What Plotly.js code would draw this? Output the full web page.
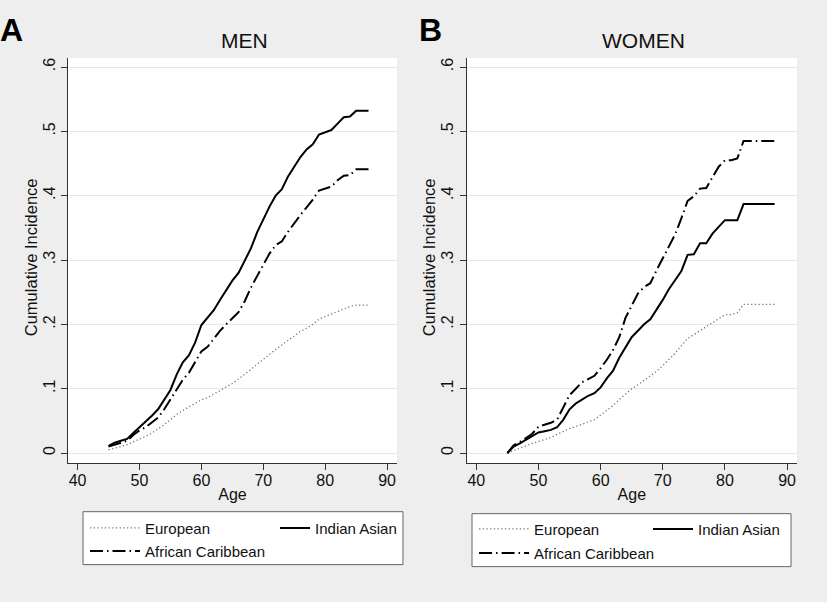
<!DOCTYPE html>
<html>
<head>
<meta charset="utf-8">
<script src="https://cdn.plot.ly/plotly-3.0.1.min.js"></script>
<style>
  html, body { margin: 0; padding: 0; background: #eeeeee; }
  #plot { width: 827px; height: 602px; }
</style>
</head>
<body>
<div id="plot"></div>
<script>
// Ages (years)
let agesMen = [45,46,47,48,49,50,51,52,53,54,55,56,57,58,59,60,61,62,63,64,65,66,
  67,68,69,70,71,72,73,74,75,76,77,78,79,80,81,82,83,84,85,86,87];
let agesWomen = [45,46,47,48,49,50,51,52,53,54,55,56,57,58,59,60,61,62,63,64,65,66,
  67,68,69,70,71,72,73,74,75,76,77,78,79,80,81,82,83,84,85,86,87,88];

// Men - cumulative incidence
let menEuropean = [0.005,0.007,0.010,0.013,0.017,0.021,0.026,0.031,0.037,0.044,0.052,0.060,
  0.066,0.072,0.078,0.083,0.086,0.091,0.097,0.103,0.108,0.115,0.122,0.130,0.138,0.146,
  0.154,0.161,0.168,0.175,0.183,0.189,0.194,0.200,0.208,0.212,0.215,0.220,0.224,0.228,
  0.230,0.230,0.230];
let menIndianAsian = [0.011,0.016,0.019,0.022,0.031,0.040,0.048,0.058,0.068,0.083,0.098,
  0.122,0.141,0.152,0.172,0.199,0.210,0.222,0.238,0.254,0.268,0.280,0.300,0.318,0.343,
  0.364,0.383,0.400,0.410,0.430,0.446,0.460,0.472,0.480,0.495,0.498,0.502,0.512,0.522,
  0.523,0.532,0.532,0.532];
let menAfricanCaribbean = [0.010,0.013,0.016,0.019,0.028,0.035,0.040,0.048,0.055,0.068,
  0.083,0.098,0.114,0.125,0.142,0.158,0.165,0.177,0.190,0.200,0.209,0.219,0.236,0.257,
  0.275,0.293,0.310,0.323,0.329,0.344,0.358,0.370,0.382,0.394,0.408,0.411,0.414,0.424,
  0.431,0.432,0.441,0.441,0.441];

// Women - cumulative incidence
let womenEuropean = [0.000,0.004,0.008,0.012,0.015,0.018,0.021,0.024,0.029,0.034,0.038,
  0.041,0.045,0.049,0.052,0.059,0.066,0.074,0.083,0.092,0.100,0.106,0.113,0.120,0.127,
  0.136,0.145,0.155,0.167,0.178,0.184,0.190,0.197,0.203,0.209,0.215,0.215,0.218,0.231,
  0.231,0.231,0.231,0.231,0.231];
let womenIndianAsian = [0.000,0.010,0.015,0.021,0.026,0.032,0.034,0.036,0.040,0.052,0.068,
  0.077,0.083,0.089,0.093,0.102,0.116,0.128,0.148,0.165,0.180,0.190,0.200,0.208,0.222,
  0.238,0.255,0.269,0.283,0.308,0.309,0.326,0.326,0.341,0.352,0.362,0.362,0.362,0.387,
  0.387,0.387,0.387,0.387,0.387];
let womenAfricanCaribbean = [0.000,0.012,0.017,0.023,0.030,0.041,0.044,0.047,0.052,0.070,
  0.090,0.100,0.110,0.115,0.120,0.132,0.145,0.160,0.180,0.210,0.230,0.248,0.258,0.264,
  0.284,0.302,0.320,0.340,0.365,0.392,0.399,0.411,0.412,0.428,0.445,0.455,0.455,0.458,
  0.485,0.485,0.485,0.485,0.485,0.485];

// Axis ticks
let xTicks = [40, 50, 60, 70, 80, 90];
let yTicks = [0, 0.1, 0.2, 0.3, 0.4, 0.5, 0.6];
let yTickLabels = ["0", ".1", ".2", ".3", ".4", ".5", ".6"];

let groupNames = ["European", "Indian Asian", "African Caribbean"];

let font = "Liberation Sans, Arial, Helvetica, sans-serif";

// line styles for each group
let styles = [
  {color: "#7a7a7a", width: 1.3, dash: "1.3px,2.4px"},
  {color: "#000000", width: 2, dash: "solid"},
  {color: "#000000", width: 2, dash: "13px,4px,1.5px,4px"}
];

function makeTrace(x, y, i, xa, ya, legendId) {
  return {
    x: x,
    y: y,
    type: "scatter",
    mode: "lines",
    name: groupNames[i],
    line: styles[i],
    xaxis: xa,
    yaxis: ya,
    legend: legendId,
    showlegend: true,
    hoverinfo: "x+y+name"
  };
}

let traceData = [
  makeTrace(agesMen, menEuropean, 0, "x", "y", "legend"),
  makeTrace(agesMen, menIndianAsian, 1, "x", "y", "legend2"),
  makeTrace(agesMen, menAfricanCaribbean, 2, "x", "y", "legend3"),
  makeTrace(agesWomen, womenEuropean, 0, "x2", "y2", "legend4"),
  makeTrace(agesWomen, womenIndianAsian, 1, "x2", "y2", "legend5"),
  makeTrace(agesWomen, womenAfricanCaribbean, 2, "x2", "y2", "legend6")
];

// shared axis settings
function xAxis(domain, anchor) {
  return {
    domain: domain,
    anchor: anchor,
    range: [38.45, 91.6],
    tickvals: xTicks,
    ticks: "outside",
    ticklen: 6,
    tickcolor: "#333",
    ticklabelstandoff: -3,
    showline: true,
    linecolor: "#333",
    linewidth: 1,
    showgrid: false,
    zeroline: false,
    tickfont: {family: font, size: 16, color: "#111"},
    title: {text: "Age", font: {family: font, size: 16, color: "#111"}, standoff: 0}
  };
}
function yAxis(anchor) {
  return {
    anchor: anchor,
    range: [-0.0155, 0.614],
    tickvals: yTicks,
    ticktext: yTickLabels,
    tickangle: -90,
    ticks: "outside",
    ticklen: 6,
    tickcolor: "#333",
    showline: true,
    linecolor: "#333",
    linewidth: 1,
    showgrid: true,
    gridcolor: "#e8e8e8",
    zeroline: false,
    tickfont: {family: font, size: 16, color: "#111"}
  };
}

function legendAt(x, y, iw) {
  return {
    x: x, y: y, xanchor: "left", yanchor: "top",
    orientation: "h",
    bgcolor: "rgba(0,0,0,0)",
    borderwidth: 0,
    itemwidth: iw,
    font: {family: font, size: 15, color: "#111"}
  };
}

function yTitle(x) {
  return {text: "Cumulative Incidence", xref: "paper", yref: "paper", x: x, y: 0.508,
    textangle: -90, showarrow: false, xanchor: "center", yanchor: "middle",
    font: {family: font, size: 16.5, color: "#111"}};
}

let layout = {
  width: 827,
  height: 602,
  showlegend: true,
  paper_bgcolor: "#eeeeee",
  plot_bgcolor: "#ffffff",
  margin: {l: 68, r: 30, t: 58, b: 139, autoexpand: false},
  xaxis: xAxis([0, 0.4513], "y"),
  yaxis: yAxis("x"),
  xaxis2: xAxis([0.5469, 1], "y2"),
  yaxis2: yAxis("x2"),
  legend: legendAt(0.0233, -0.1202, 50),
  legend2: legendAt(0.2840, -0.1202, 30),
  legend3: legendAt(0.0233, -0.1769, 50),
  legend4: legendAt(0.5570, -0.1226, 50),
  legend5: legendAt(0.7956, -0.1226, 40),
  legend6: legendAt(0.5570, -0.1818, 50),
  shapes: [
    {type: "rect", xref: "paper", yref: "paper", x0: 0.0206, x1: 0.4595, y0: -0.2509, y1: -0.1202,
      fillcolor: "#ffffff", line: {color: "#666", width: 1}, layer: "below"},
    {type: "rect", xref: "paper", yref: "paper", x0: 0.5542, x1: 0.9918, y0: -0.2559, y1: -0.1251,
      fillcolor: "#ffffff", line: {color: "#666", width: 1}, layer: "below"}
  ],
  annotations: [
    {text: "MEN", xref: "paper", yref: "paper", x: 0.2419, y: 1.042, showarrow: false,
      xanchor: "center", yanchor: "middle", font: {family: font, size: 21, color: "#111"}},
    {text: "WOMEN", xref: "paper", yref: "paper", x: 0.7895, y: 1.042, showarrow: false,
      xanchor: "center", yanchor: "middle", font: {family: font, size: 21, color: "#111"}},
    {text: "A", xref: "paper", yref: "paper", x: -0.0775, y: 1.069, showarrow: false,
      xanchor: "center", yanchor: "middle", font: {family: font, size: 32, color: "#000", weight: 700}},
    {text: "B", xref: "paper", yref: "paper", x: 0.4967, y: 1.069, showarrow: false,
      xanchor: "center", yanchor: "middle", font: {family: font, size: 32, color: "#000", weight: 700}},
    yTitle(-0.0508),
    yTitle(0.4952)
  ]
};

Plotly.newPlot("plot", traceData, layout, {displayModeBar: false});
</script>
</body>
</html>
